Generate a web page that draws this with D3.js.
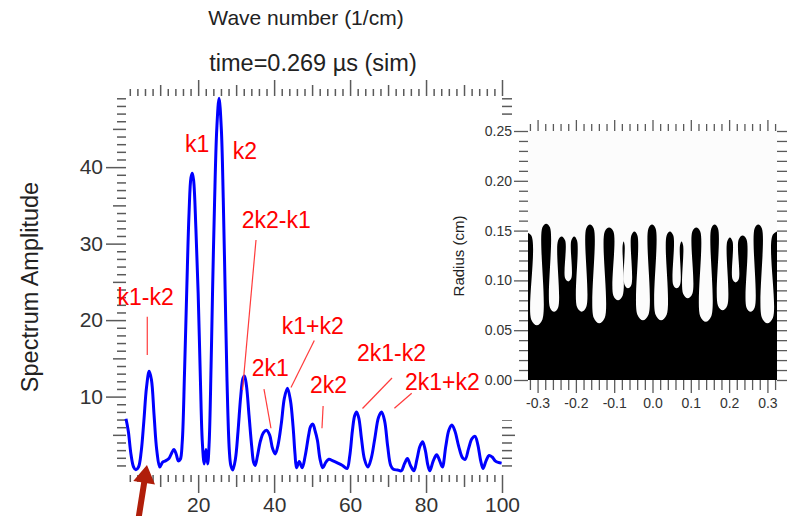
<!DOCTYPE html>
<html><head><meta charset="utf-8">
<script src="https://cdn.jsdelivr.net/npm/d3@7"></script>
<style>
body{margin:0;background:#fff}
svg{display:block}
text{font-family:"Liberation Sans",Arial,Helvetica,sans-serif}
</style>
</head><body>
<svg id="chart" width="788" height="516"></svg>
<script>
// ---------- DATA ----------
// Spectrum: wave number (1/cm) and amplitude
const waveNumber = [1.0,1.6,2.3,3.0,3.6,4.3,5.0,5.7,6.4,7.1,7.7,8.4,9.1,9.9,10.6,11.4,12.3,13.0,13.6,14.2,14.8,15.3,15.8,16.4,17.0,17.6,18.1,18.45,18.8,19.4,20.0,20.6,21.1,21.6,22.06,22.5,22.9,23.4,23.8,24.3,24.9,25.5,26.1,26.6,27.1,27.6,28.2,28.6,29.1,29.8,30.5,31.2,31.8,32.2,32.7,33.4,34.1,34.6,35.0,35.6,36.4,37.2,38.0,38.8,39.6,40.3,41.0,41.9,42.7,43.5,44.3,45.0,45.5,45.9,46.6,47.4,48.2,49.1,49.6,50.2,50.8,51.4,52.1,52.8,53.6,54.4,55.5,56.8,58.0,59.2,59.9,60.6,61.2,61.7,62.3,63.0,63.8,64.7,65.6,66.5,67.5,68.3,69.1,69.9,70.7,71.4,72.5,73.5,74.3,75.1,75.9,76.8,77.6,78.4,79.1,79.8,80.5,81.0,81.9,82.8,83.6,84.3,85.2,86.0,86.8,87.6,88.6,89.6,90.3,91.2,92.1,92.9,93.6,94.4,95.0,95.8,96.6,97.4,98.2,99.0,99.9];
const amplitude  = [7.1,5.5,2.5,0.8,0.45,0.8,2.8,6.8,11.2,13.3,12.2,7.5,3.0,0.8,1.4,1.6,1.9,2.6,3.1,2.5,1.6,1.8,4.0,13.0,24.0,34.0,38.6,39.2,38.3,32.0,23.5,12.0,4.0,1.2,3.1,1.2,4.0,14.0,24.0,35.0,45.0,49.0,45.0,36.0,24.0,12.0,3.0,1.0,0.4,1.8,5.5,10.0,12.4,12.7,11.5,7.5,3.5,1.4,1.0,2.2,4.2,5.3,5.6,5.0,3.2,2.5,3.6,6.5,9.8,11.1,9.5,6.0,2.5,0.7,1.5,0.7,2.3,5.0,6.1,6.4,5.5,4.3,1.8,0.7,1.4,1.8,1.6,1.3,1.0,0.6,2.2,5.5,7.5,8.0,7.2,4.5,1.8,0.8,2.0,4.5,7.3,8.0,6.8,3.5,1.0,0.5,0.4,0.3,1.2,1.9,1.0,0.3,1.8,3.5,4.1,3.0,1.0,0.3,1.6,2.4,1.6,0.8,3.5,5.6,6.3,5.5,3.5,2.0,1.8,3.2,4.5,4.8,3.8,1.6,0.6,1.6,2.3,2.1,1.6,1.4,1.3];

const xTickLabels = [20,40,60,80,100];
const yTickLabels = [10,20,30,40];

// Peak annotations: text, label anchor (wave number, amplitude), pointer line ends
const peakLabels = ["k1","k2","2k2-k1","k1-k2","2k1","k1+k2","2k2","2k1-k2","2k1+k2"];
const labelK     = [16.53,29.1,31.46,-1.24,34.1,41.99,49.45,61.8,74.43];
const labelV     = [42.0,41.0,32.0,21.97,12.65,18.14,10.43,14.6,10.82];
const pointerFrom = [null,null,[35.23,30.47],[6.6,20.45],[37.33,10.99],[50.58,17.33],[52.9,8.77],[71.04,12.43],[76.22,10.43]];
const pointerTo   = [null,null,[31.68,10.86],[6.6,15.43],[39.17,5.86],[44.44,11.19],[52.6,5.85],[63.27,8.44],[71.67,8.47]];
const arrowTail = [4.23,-6.13], arrowTip = [6.52,1.06];

// Inset (density snapshot): white bubble fingers and black spike tips (cm)
const bubbleCenter    = [-0.302,-0.257,-0.220,-0.185,-0.139,-0.090,-0.064,-0.025,0.0225,0.063,0.092,0.139,0.183,0.217,0.256,0.300];
const bubbleTip       = [0.055,0.0686,0.099,0.0686,0.057,0.080,0.092,0.060,0.060,0.092,0.082,0.0585,0.070,0.098,0.0686,0.057];
const bubbleHalfWidth = [0.0144,0.0105,0.008,0.012,0.0144,0.012,0.0087,0.0144,0.0144,0.0087,0.012,0.0144,0.012,0.008,0.0105,0.0144];
const spikeTip        = [0.149,0.157,0.144,0.144,0.156,0.153,0.139,0.149,0.156,0.149,0.139,0.153,0.156,0.143,0.145,0.156,0.150];
const insetXLabels = [-0.3,-0.2,-0.1,0.0,0.1,0.2,0.3];
const insetYLabels = [0.00,0.05,0.10,0.15,0.20,0.25];

// ---------- CHART ----------
const svg = d3.select("#chart");
const tickColor = "#5a5a5a";

const x = d3.scaleLinear().domain([1,100]).range([126,502]);
const y = d3.scaleLinear().domain([-0.25,49.3]).range([475,96]);

function tickSet(g, axisFn, scale, values, size, fmt, fs, pad) {
  const ax = axisFn(scale).tickValues(values).tickSize(size).tickPadding(pad||3)
    .tickFormat(fmt || (() => ""));
  g.call(ax);
  g.select(".domain").remove();
  g.selectAll(".tick line").attr("stroke", tickColor).attr("stroke-width", 1.5);
  g.selectAll(".tick text").attr("fill", "#333").attr("font-size", fs || 20)
    .attr("font-family", '"Liberation Sans",Arial,sans-serif');
}

// Bottom / top axes
const xAll = d3.range(2, 101, 2);
const xMajor = xAll.filter(v => xTickLabels.includes(v));
const xMed = xAll.filter(v => v % 10 === 0 && !xTickLabels.includes(v));
const xMin = xAll.filter(v => v % 10 !== 0);
const gBottom = svg.append("g").attr("transform", `translate(0,${y.range()[0]})`);
tickSet(gBottom.append("g"), d3.axisBottom, x, xMin, 7);
tickSet(gBottom.append("g"), d3.axisBottom, x, xMed, 12);
tickSet(gBottom.append("g"), d3.axisBottom, x, xMajor, 18, d3.format("d"), 21, 4);
const gTop = svg.append("g").attr("transform", `translate(0,${y.range()[1]})`);
tickSet(gTop.append("g"), d3.axisTop, x, xMin, 7);
tickSet(gTop.append("g"), d3.axisTop, x, xMed, 11);
tickSet(gTop.append("g"), d3.axisTop, x, xMajor, 16);

// Left / right axes
const yAll = d3.range(1, 50);
const yMajor = yAll.filter(v => yTickLabels.includes(v));
const yMed = yAll.filter(v => v % 5 === 0 && v % 10 !== 0);
const yMin = yAll.filter(v => v % 5 !== 0);
const gLeft = svg.append("g").attr("transform", `translate(${x.range()[0]},0)`);
tickSet(gLeft.append("g"), d3.axisLeft, y, yMin, 9);
tickSet(gLeft.append("g"), d3.axisLeft, y, yMed, 13);
tickSet(gLeft.append("g"), d3.axisLeft, y, yMajor, 20, d3.format("d"), 21, 3);
const gRight = svg.append("g").attr("transform", `translate(${x.range()[1]},0)`);
tickSet(gRight.append("g"), d3.axisRight, y, yMin, 10);
tickSet(gRight.append("g"), d3.axisRight, y, yMed, 13);
tickSet(gRight.append("g"), d3.axisRight, y, yMajor, 16);

// Spectrum line
const specData = waveNumber.map((k, i) => [k, amplitude[i]]);
svg.append("path").datum(specData)
  .attr("fill", "none").attr("stroke", "#0000ff").attr("stroke-width", 3)
  .attr("stroke-linejoin", "round")
  .attr("d", d3.line().x(d => x(d[0])).y(d => y(d[1])).curve(d3.curveCatmullRom.alpha(0.5)));

// Titles
svg.append("text").attr("x", 306).attr("y", 25).attr("text-anchor", "middle")
  .attr("font-size", 21).attr("fill", "#222").text("Wave number (1/cm)");
svg.append("text").attr("x", 313).attr("y", 71).attr("text-anchor", "middle")
  .attr("font-size", 23.5).attr("fill", "#222").text("time=0.269 \u00b5s (sim)");
svg.append("text").attr("transform", "translate(30,287) rotate(-90)").attr("dy", "0.35em")
  .attr("text-anchor", "middle").attr("font-size", 23.5).attr("fill", "#222").text("Spectrum Amplitude");

// ---------- INSET ----------
const inset = svg.append("g");
inset.append("rect").attr("x", 478).attr("y", 116).attr("width", 310).attr("height", 304).attr("fill", "#fff");
const xI = d3.scaleLinear().domain([-0.325, 0.325]).range([528, 777]);
const yI = d3.scaleLinear().domain([0, 0.25]).range([380, 131]);

const defs = svg.append("defs");
defs.append("clipPath").attr("id", "imgclip").append("rect")
  .attr("x", xI.range()[0]).attr("y", yI.range()[1])
  .attr("width", xI.range()[1] - xI.range()[0]).attr("height", yI.range()[0] - yI.range()[1]);
defs.append("filter").attr("id", "soft").append("feGaussianBlur").attr("stdDeviation", 0.7);

const img = inset.append("g").attr("clip-path", "url(#imgclip)");
img.append("rect").attr("x", xI.range()[0]).attr("y", yI.range()[1])
  .attr("width", xI.range()[1] - xI.range()[0]).attr("height", yI.range()[0] - yI.range()[1])
  .attr("fill", "#fcfcfc");

// interface profile built from bubbles and spikes
const pxPerX = (xI.range()[1] - xI.range()[0]) / (xI.domain()[1] - xI.domain()[0]);
const pxPerY = (yI.range()[0] - yI.range()[1]) / (yI.domain()[1] - yI.domain()[0]);
const drop = 0.004;
const prof = [[xI.domain()[0] - 0.01, spikeTip[0]]];
bubbleCenter.forEach((c, i) => {
  const hw = bubbleHalfWidth[i], tip = bubbleTip[i];
  const round = hw * pxPerX / pxPerY;
  if (i > 0) {
    const prevR = bubbleCenter[i-1] + bubbleHalfWidth[i-1];
    prof.push([(prevR + c - hw) / 2, spikeTip[i]]);
  }
  prof.push([c - hw, spikeTip[i] - drop]);
  prof.push([c - hw, tip + round]);
  prof.push([c, tip]);
  prof.push([c + hw, tip + round]);
  prof.push([c + hw, spikeTip[i+1] - drop]);
});
prof.push([xI.domain()[1] + 0.01, spikeTip[spikeTip.length - 1]]);

img.append("path").datum(prof).attr("fill", "#000").attr("filter", "url(#soft)")
  .attr("d", d3.area().x(d => xI(d[0])).y0(yI(0) + 5).y1(d => yI(d[1]))
    .curve(d3.curveCatmullRom.alpha(0.5)));

// inset axes
const ixAll = d3.range(-16, 17).map(i => i * 0.02);
const ixMajor = ixAll.filter((v, i) => (i - 16) % 5 === 0);
const ixMin = ixAll.filter((v, i) => (i - 16) % 5 !== 0);
const ib = inset.append("g").attr("transform", `translate(0,${yI.range()[0]})`);
tickSet(ib.append("g"), d3.axisBottom, xI, ixMin, 10);
tickSet(ib.append("g"), d3.axisBottom, xI, ixMajor, 13, d => d.toFixed(1), 14, 5);
const it = inset.append("g").attr("transform", `translate(0,${yI.range()[1]})`);
tickSet(it.append("g"), d3.axisTop, xI, ixMin, 7);
tickSet(it.append("g"), d3.axisTop, xI, ixMajor, 11);

const iyAll = d3.range(0, 26).map(i => i / 100);
const iyMajor = iyAll.filter((v, i) => i % 5 === 0);
const iyMin = iyAll.filter((v, i) => i % 5 !== 0);
const il = inset.append("g").attr("transform", `translate(${xI.range()[0]},0)`);
tickSet(il.append("g"), d3.axisLeft, yI, iyMin, 9);
tickSet(il.append("g"), d3.axisLeft, yI, iyMajor, 14, d => d.toFixed(2), 14, 2);
const ir = inset.append("g").attr("transform", `translate(${xI.range()[1]},0)`);
tickSet(ir.append("g"), d3.axisRight, yI, iyMin, 10);
tickSet(ir.append("g"), d3.axisRight, yI, iyMajor, 10);
inset.selectAll(".tick line").attr("stroke-width", 1.3);

inset.append("text").attr("transform", "translate(459,256) rotate(-90)").attr("dy", "0.35em")
  .attr("text-anchor", "middle").attr("font-size", 15).attr("fill", "#222").text("Radius (cm)");

// ---------- ANNOTATIONS ----------
const ann = svg.append("g");
peakLabels.forEach((t, i) => {
  if (pointerFrom[i]) {
    ann.append("line")
      .attr("x1", x(pointerFrom[i][0])).attr("y1", y(pointerFrom[i][1]))
      .attr("x2", x(pointerTo[i][0])).attr("y2", y(pointerTo[i][1]))
      .attr("stroke", "#ff3b3b").attr("stroke-width", 1.2);
  }
  ann.append("text").attr("x", x(labelK[i])).attr("y", y(labelV[i]))
    .attr("font-size", 23).attr("fill", "#ff0000").text(t);
});

// arrow
(function(){
  const x0 = x(arrowTail[0]), y0 = y(arrowTail[1]), x1 = x(arrowTip[0]), y1 = y(arrowTip[1]);
  const dx = x1 - x0, dy = y1 - y0, L = Math.hypot(dx, dy);
  const ux = dx / L, uy = dy / L, nx = -uy, ny = ux;
  const head = 18, hw = 11, sw = 3;
  const bx = x1 - ux * head, by = y1 - uy * head;
  const p = [
    [x0 + nx * sw, y0 + ny * sw], [bx + nx * sw, by + ny * sw], [bx + nx * hw, by + ny * hw],
    [x1, y1], [bx - nx * hw, by - ny * hw], [bx - nx * sw, by - ny * sw], [x0 - nx * sw, y0 - ny * sw]
  ];
  ann.append("path").attr("d", "M" + p.map(q => q.join(",")).join("L") + "Z").attr("fill", "#b01e0a");
})();
</script>
</body></html>
